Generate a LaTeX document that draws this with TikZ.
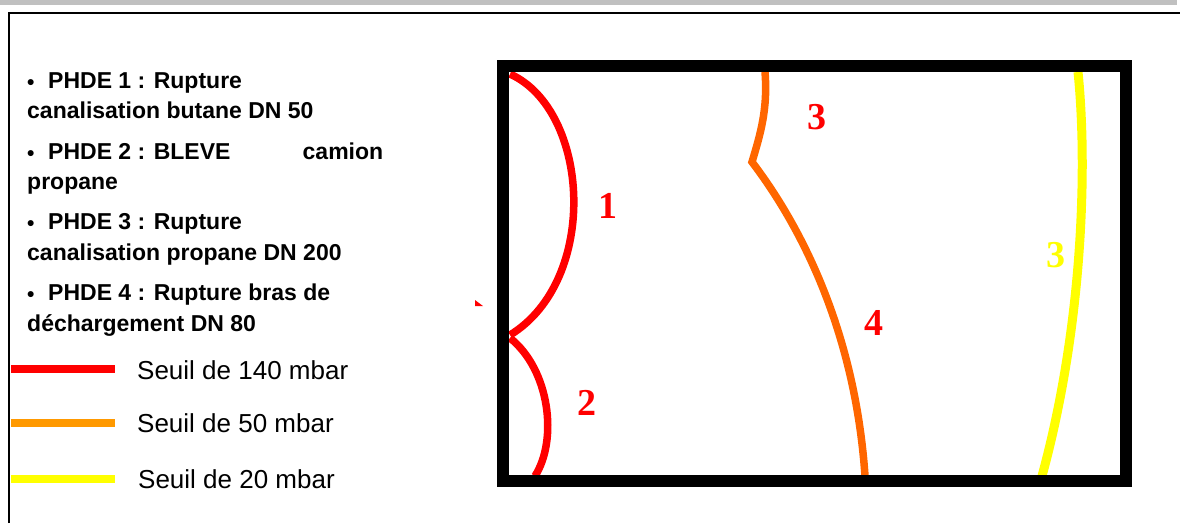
\documentclass[tikz,border=0pt]{standalone}
\usepackage{fontspec}
\setmainfont{Liberation Sans}
\newfontfamily\numfont{Liberation Serif}
\definecolor{barGray}{RGB}{192,192,192}
\definecolor{sRed}{RGB}{255,0,0}
\definecolor{sOrange}{RGB}{255,102,0}
\definecolor{sLegOrange}{RGB}{255,153,0}
\definecolor{sYellow}{RGB}{255,255,0}
\tikzset{
  itemtxt/.style={anchor=base west, inner sep=0pt, font=\fontsize{23}{27}\selectfont\bfseries},
  legtxt/.style={anchor=base west, inner sep=0pt, font=\fontsize{26}{30}\selectfont},
  legline/.style={line width=8pt},
  zone/.style={line width=7.5pt},
  zonelbl/.style={inner sep=0pt, font=\fontsize{38}{40}\selectfont\numfont\bfseries}
}
\begin{document}
\begin{tikzpicture}[x=1pt,y=-1pt]
\useasboundingbox (0,0) rectangle (1180,523);
% header bar and frame
\fill[barGray] (0,0) rectangle (1177,5);
\draw[line width=2pt] (9,523) -- (9,13) -- (1180,13);
% list
\newcommand{\bul}{\makebox[21pt][l]{\fontsize{21}{21}\selectfont\raisebox{-1.5pt}{•}}}
\node[itemtxt] (t1) at (27,88) {\bul PHDE 1 : Rupture};
\node[itemtxt] (t2) at (27,118) {canalisation butane DN 50};
\node[itemtxt] (t3) at (27,159) {\makebox[356pt][s]{\bul PHDE 2 : BLEVE\hfill camion}};
\node[itemtxt] (t4) at (27,189) {propane};
\node[itemtxt] (t5) at (27,229) {\bul PHDE 3 : Rupture};
\node[itemtxt] (t6) at (27,260) {canalisation propane DN 200};
\node[itemtxt] (t7) at (27,300) {\bul PHDE 4 : Rupture bras de};
\node[itemtxt] (t8) at (27,331) {déchargement DN 80};
% legend
\coordinate (l1a) at (11,369); \coordinate (l1b) at (115,369);
\coordinate (l2a) at (11,423); \coordinate (l2b) at (115,423);
\coordinate (l3a) at (11,479); \coordinate (l3b) at (115,479);
\draw[legline, sRed] (l1a) -- (l1b);
\draw[legline, sLegOrange] (l2a) -- (l2b);
\draw[legline, sYellow] (l3a) -- (l3b);
\node[legtxt] (g1) at (137,379) {Seuil de 140 mbar};
\node[legtxt] (g2) at (137,432) {Seuil de 50 mbar};
\node[legtxt] (g3) at (138,488) {Seuil de 20 mbar};
% zones
\draw[zone, sRed] (510,74) .. controls (590,110) and (600,280) .. (510,335);
\draw[zone, sRed] (510,338) .. controls (550,370) and (558,440) .. (535,476);
\fill[sRed] (475,300) -- (483,306) -- (475,306) -- cycle;
\draw[zone, sOrange, line join=miter] (765,72) .. controls (768,110) and (760,135) .. (752,162)
   .. controls (800,225) and (855,330) .. (865,476);
\draw[zone, sYellow, line width=9pt] (1078,72) .. controls (1088,170) and (1082,330) .. (1042,476);
% map frame
\draw[line width=12pt] (503,66) rectangle (1126,481);
% labels
\node[zonelbl, text=sRed] (n1) at (608,206) {1};
\node[zonelbl, text=sRed] (n2) at (587,403) {2};
\node[zonelbl, text=sRed] (n3) at (817,117) {3};
\node[zonelbl, text=sRed] (n4) at (874,323) {4};
\node[zonelbl, text=sYellow] (n5) at (1056,255) {3};
\end{tikzpicture}
\end{document}
